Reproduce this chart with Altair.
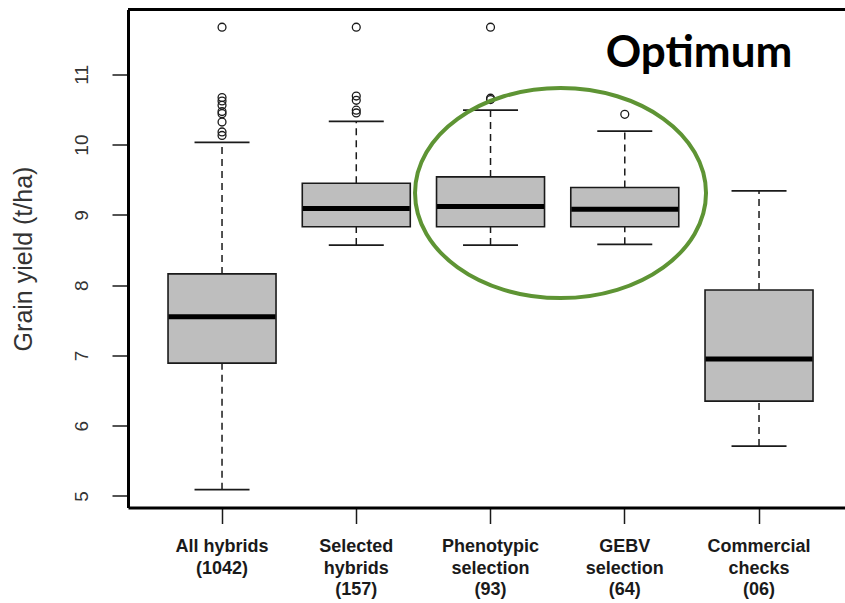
import altair as alt
import pandas as pd

# ---- data ----
categories = ["All hybrids\n(1042)", "Selected\nhybrids\n(157)", "Phenotypic\nselection\n(93)",
              "GEBV\nselection\n(64)", "Commercial\nchecks\n(06)"]
lower_whisker = [5.09, 8.57, 8.57, 8.58, 5.71]
q1 = [6.89, 8.83, 8.83, 8.83, 6.35]
median = [7.55, 9.09, 9.12, 9.08, 6.95]
q3 = [8.16, 9.45, 9.54, 9.39, 7.93]
upper_whisker = [10.03, 10.33, 10.49, 10.19, 9.34]

outliers_all = [11.67, 10.67, 10.62, 10.56, 10.47, 10.44, 10.32, 10.18, 10.13]
outliers_selected = [11.67, 10.69, 10.63, 10.49, 10.45]
outliers_phenotypic = [11.67, 10.66, 10.64]
outliers_gebv = [10.43]
outliers_checks = []

y_ticks = [5, 6, 7, 8, 9, 10, 11]
y_min, y_max = 4.836, 11.922

highlight_category = categories[2]   # ellipse drawn around phenotypic & GEBV selections
highlight_center = 9.31
label_text = "Optimum"
label_category = categories[4]
label_value = 11.10

# ---- tables ----
box_df = pd.DataFrame({"cat": categories, "lo": lower_whisker, "q1": q1, "med": median,
                       "q3": q3, "hi": upper_whisker})
out_rows = []
for c, vals in zip(categories, [outliers_all, outliers_selected, outliers_phenotypic,
                                outliers_gebv, outliers_checks]):
    for v in vals:
        out_rows.append({"cat": c, "val": v})
out_df = pd.DataFrame(out_rows)
ell_df = pd.DataFrame({"cat": [highlight_category], "val": [highlight_center]})
lab_df = pd.DataFrame({"cat": [label_category], "val": [label_value], "txt": [label_text]})
top_df = pd.DataFrame({"top": [y_max]})

FONT = "Liberation Sans"
INK = "#1a1a1a"

xscale = alt.Scale(domain=categories, type="band", paddingInner=0, paddingOuter=0.1704, align=0.588)
xaxis = alt.Axis(title=None, labelExpr="split(datum.label, '\\n')", labelAngle=0,
                 labelFont=FONT, labelFontSize=18, labelFontWeight="bold", labelColor=INK,
                 labelLineHeight=21.5, labelPadding=14, labelAlign="center", labelBaseline="top",
                 domainColor="black", domainWidth=3, tickColor=INK, tickSize=16, tickWidth=1.5,
                 grid=False)
yscale = alt.Scale(domain=[y_min, y_max], nice=False, zero=False)
yaxis = alt.Axis(values=y_ticks, title="Grain yield (t/ha)", labelAngle=-90, labelAlign="center",
                 labelBaseline="alphabetic", labelPadding=25, labelFont=FONT, labelFontSize=19,
                 labelColor="#333333", domainColor="black", domainWidth=3, tickColor=INK,
                 tickSize=16, tickWidth=1.5, grid=False, titleFont=FONT, titleFontSize=25,
                 titleFontWeight="normal", titleColor="#333333", titleAngle=-90,
                 titleBaseline="alphabetic", titleAlign="center", titleX=-97, titleY=249)

X = alt.X("cat:N", scale=xscale, axis=xaxis)
def Y(field):
    return alt.Y(field, type="quantitative", scale=yscale, axis=yaxis)

base = alt.Chart(box_df)

upper = base.mark_rule(color=INK, strokeWidth=1.5, strokeDash=[7, 5], opacity=1).encode(
    x=X, y=Y("q3"), y2="hi")
lower = base.mark_rule(color=INK, strokeWidth=1.5, strokeDash=[7, 5], opacity=1).encode(
    x=X, y=Y("lo"), y2="q1")
cap_hi = base.mark_tick(size=55, thickness=1.8, color=INK, opacity=1).encode(x=X, y=Y("hi"))
cap_lo = base.mark_tick(size=55, thickness=1.8, color=INK, opacity=1).encode(x=X, y=Y("lo"))
box = base.mark_bar(size=108, color="#BEBEBE", stroke=INK, strokeWidth=1.6, opacity=1).encode(
    x=X, y=Y("q1"), y2="q3")
med = base.mark_tick(size=107, thickness=5, color="black", opacity=1).encode(x=X, y=Y("med"))

outl = alt.Chart(out_df).mark_point(shape="circle", filled=False, size=62, color=INK,
                                    strokeWidth=1.3, opacity=1).encode(x=X, y=Y("val"))

k = 0.5523
ry = 0.722
ell_path = (f"M -1 0 C -1 {-ry*k:.4f} {-k} {-ry} 0 {-ry} C {k} {-ry} 1 {-ry*k:.4f} 1 0 "
            f"C 1 {ry*k:.4f} {k} {ry} 0 {ry} C {-k} {ry} -1 {ry*k:.4f} -1 0 Z")
ellipse = alt.Chart(ell_df).mark_point(shape=ell_path, size=291 * 291, filled=False,
                                       color="#5E9434", strokeWidth=4, opacity=1,
                                       xOffset=70).encode(x=X, y=Y("val"))

label = alt.Chart(lab_df).mark_text(font="Lato", fontSize=44, fontWeight="bold", color="black",
                                    align="center", baseline="alphabetic", dx=-60).encode(
    x=X, y=Y("val"), text="txt:N")

top_line = alt.Chart(top_df).mark_rule(color="black", strokeWidth=3).encode(y=Y("top"))

chart = alt.layer(upper, lower, cap_hi, cap_lo, box, med, outl, ellipse, label, top_line).properties(
    width=717, height=498,
    padding={"left": 128, "top": 9.5, "right": 0, "bottom": 95.5},
    autosize=alt.AutoSizeParams(type="none"),
    background="white",
).configure_view(stroke=None)

chart.save("out.html", embed_options={"renderer": "svg", "actions": False})
